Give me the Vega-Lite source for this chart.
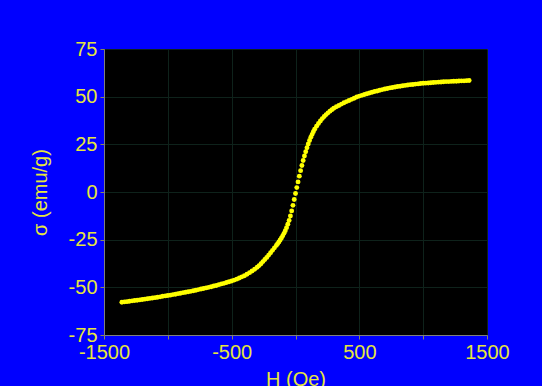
{
  "$schema": "https://vega.github.io/schema/vega-lite/v6.json",
  "autosize": {"type": "none"},
  "width": 383,
  "height": 286,
  "padding": {"left": 104, "top": 49, "right": 55, "bottom": 51},
  "background": "#0000ff",
  "config": {
    "view": {"fill": "#000000", "stroke": "#7f7f7f", "strokeWidth": 1},
    "font": "Liberation Sans",
    "axis": {
      "labelFont": "Liberation Sans",
      "titleFont": "Liberation Sans",
      "labelColor": "#e6e63c",
      "titleColor": "#e6e63c",
      "labelFontSize": 20,
      "titleFontSize": 20,
      "titleFontWeight": "normal",
      "gridColor": "#0e221b",
      "gridWidth": 1,
      "gridOpacity": 1,
      "domainColor": "#7f7f7f",
      "tickColor": "#8a8a5a",
      "tickSize": 4,
      "labelPadding": 3
    }
  },
  "data": {
    "values": [
      {"H": -1360, "M": -57.8}, {"H": -1340, "M": -57.6}, {"H": -1320, "M": -57.5}, {"H": -1300, "M": -57.3},
      {"H": -1280, "M": -57.1}, {"H": -1260, "M": -56.9}, {"H": -1240, "M": -56.8}, {"H": -1220, "M": -56.6},
      {"H": -1200, "M": -56.4}, {"H": -1180, "M": -56.2}, {"H": -1160, "M": -56.0}, {"H": -1140, "M": -55.8},
      {"H": -1120, "M": -55.6}, {"H": -1100, "M": -55.4}, {"H": -1080, "M": -55.2}, {"H": -1060, "M": -55.0},
      {"H": -1040, "M": -54.7}, {"H": -1020, "M": -54.5}, {"H": -1000, "M": -54.3}, {"H": -980, "M": -54.1},
      {"H": -960, "M": -53.8}, {"H": -940, "M": -53.6}, {"H": -920, "M": -53.3}, {"H": -900, "M": -53.1},
      {"H": -880, "M": -52.8}, {"H": -860, "M": -52.6}, {"H": -840, "M": -52.3}, {"H": -820, "M": -52.1},
      {"H": -800, "M": -51.8}, {"H": -780, "M": -51.5}, {"H": -760, "M": -51.2}, {"H": -740, "M": -50.9},
      {"H": -720, "M": -50.6}, {"H": -700, "M": -50.3}, {"H": -680, "M": -50.0}, {"H": -660, "M": -49.7},
      {"H": -640, "M": -49.3}, {"H": -620, "M": -49.0}, {"H": -600, "M": -48.6}, {"H": -580, "M": -48.2},
      {"H": -560, "M": -47.9}, {"H": -540, "M": -47.5}, {"H": -520, "M": -47.1}, {"H": -500, "M": -46.7},
      {"H": -480, "M": -46.2}, {"H": -460, "M": -45.7}, {"H": -440, "M": -45.1}, {"H": -420, "M": -44.5},
      {"H": -400, "M": -43.9}, {"H": -380, "M": -43.1}, {"H": -360, "M": -42.3}, {"H": -340, "M": -41.4},
      {"H": -320, "M": -40.5}, {"H": -300, "M": -39.5}, {"H": -285, "M": -38.6}, {"H": -270, "M": -37.6},
      {"H": -255, "M": -36.5}, {"H": -240, "M": -35.4}, {"H": -225, "M": -34.3}, {"H": -210, "M": -33.1},
      {"H": -195, "M": -31.9}, {"H": -180, "M": -30.6}, {"H": -165, "M": -29.3}, {"H": -150, "M": -28.0},
      {"H": -140, "M": -27.1}, {"H": -130, "M": -26.2}, {"H": -120, "M": -25.2}, {"H": -110, "M": -24.1},
      {"H": -100, "M": -23.0}, {"H": -90, "M": -21.7}, {"H": -80, "M": -20.3}, {"H": -70, "M": -18.7},
      {"H": -60, "M": -16.9}, {"H": -50, "M": -14.9}, {"H": -40, "M": -12.6}, {"H": -30, "M": -9.9},
      {"H": -20, "M": -7.0}, {"H": -10, "M": -3.9}, {"H": 0, "M": -0.8}, {"H": 10, "M": 2.3},
      {"H": 20, "M": 5.3}, {"H": 30, "M": 8.3}, {"H": 40, "M": 11.2}, {"H": 50, "M": 13.9},
      {"H": 60, "M": 16.5}, {"H": 70, "M": 18.9}, {"H": 80, "M": 21.1}, {"H": 90, "M": 23.2},
      {"H": 100, "M": 25.2}, {"H": 110, "M": 27.0}, {"H": 120, "M": 28.7}, {"H": 130, "M": 30.2},
      {"H": 140, "M": 31.6}, {"H": 150, "M": 32.9}, {"H": 165, "M": 34.5}, {"H": 180, "M": 35.9},
      {"H": 195, "M": 37.2}, {"H": 210, "M": 38.5}, {"H": 225, "M": 39.6}, {"H": 240, "M": 40.6},
      {"H": 255, "M": 41.5}, {"H": 270, "M": 42.4}, {"H": 285, "M": 43.2}, {"H": 300, "M": 43.9},
      {"H": 320, "M": 44.7}, {"H": 340, "M": 45.4}, {"H": 360, "M": 46.1}, {"H": 380, "M": 46.8},
      {"H": 400, "M": 47.4}, {"H": 420, "M": 48.0}, {"H": 440, "M": 48.6}, {"H": 460, "M": 49.2},
      {"H": 480, "M": 49.8}, {"H": 500, "M": 50.3}, {"H": 520, "M": 50.7}, {"H": 540, "M": 51.1},
      {"H": 560, "M": 51.5}, {"H": 580, "M": 51.9}, {"H": 600, "M": 52.3}, {"H": 620, "M": 52.7},
      {"H": 640, "M": 53.0}, {"H": 660, "M": 53.4}, {"H": 680, "M": 53.7}, {"H": 700, "M": 54.0},
      {"H": 720, "M": 54.3}, {"H": 740, "M": 54.6}, {"H": 760, "M": 54.8}, {"H": 780, "M": 55.1},
      {"H": 800, "M": 55.3}, {"H": 820, "M": 55.5}, {"H": 840, "M": 55.7}, {"H": 860, "M": 55.9},
      {"H": 880, "M": 56.1}, {"H": 900, "M": 56.3}, {"H": 920, "M": 56.4}, {"H": 940, "M": 56.6},
      {"H": 960, "M": 56.7}, {"H": 980, "M": 56.9}, {"H": 1000, "M": 57.0}, {"H": 1020, "M": 57.1},
      {"H": 1040, "M": 57.2}, {"H": 1060, "M": 57.3}, {"H": 1080, "M": 57.4}, {"H": 1100, "M": 57.5},
      {"H": 1120, "M": 57.6}, {"H": 1140, "M": 57.7}, {"H": 1160, "M": 57.8}, {"H": 1180, "M": 57.9},
      {"H": 1200, "M": 57.9}, {"H": 1220, "M": 58.0}, {"H": 1240, "M": 58.1}, {"H": 1260, "M": 58.1},
      {"H": 1280, "M": 58.2}, {"H": 1300, "M": 58.3}, {"H": 1320, "M": 58.3}, {"H": 1340, "M": 58.4},
      {"H": 1360, "M": 58.5}
    ]
  },
  "mark": {"type": "point", "filled": true, "color": "#ffff00", "size": 24, "opacity": 1, "strokeWidth": 0},
  "encoding": {
    "x": {
      "field": "H",
      "type": "quantitative",
      "scale": {"domain": [-1500, 1500], "nice": false, "zero": false},
      "axis": {
        "title": "H (Oe)",
        "values": [-1500, -1000, -500, 0, 500, 1000, 1500],
        "labelExpr": "indexof([-1500, -500, 500, 1500], datum.value) >= 0 ? '' + datum.value : ''",
        "labelFlush": false,
        "labelOverlap": false,
        "titlePadding": 7
      }
    },
    "y": {
      "field": "M",
      "type": "quantitative",
      "scale": {"domain": [-75, 75], "nice": false, "zero": false},
      "axis": {
        "title": "σ (emu/g)",
        "values": [-75, -50, -25, 0, 25, 50, 75],
        "labelExpr": "'' + datum.value",
        "labelFlush": false,
        "labelOverlap": false,
        "titlePadding": 18
      }
    }
  }
}
